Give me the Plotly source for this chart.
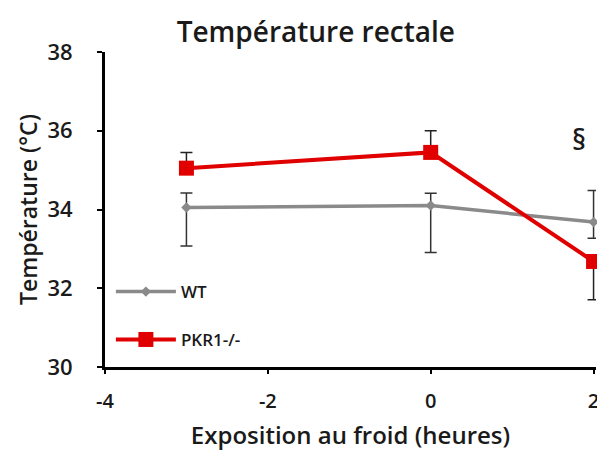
import plotly.graph_objects as go

# Data
hours = [-3, 0, 2]
wt_values = [34.05, 34.1, 33.68]
wt_err_plus = [0.37, 0.31, 0.8]
wt_err_minus = [0.98, 1.19, 0.41]
pkr_values = [35.05, 35.45, 32.68]
pkr_err_plus = [0.4, 0.55, 0.0]
pkr_err_minus = [0.0, 0.0, 0.97]
series_names = ["WT", "PKR1-/-"]
y_ticks = [30, 32, 34, 36, 38]
x_ticks = [-4, -2, 0, 2]

FONT = "Open Sans"
TXT = "#1a1a1a"

fig = go.Figure()
fig.add_trace(go.Scatter(
    x=hours, y=wt_values, name=series_names[0], mode="lines+markers",
    line=dict(color="#8a8a8a", width=3.5),
    marker=dict(symbol="diamond", size=8, color="#8a8a8a"),
    error_y=dict(type="data", symmetric=False, array=wt_err_plus, arrayminus=wt_err_minus,
                 color="#333333", thickness=1.5, width=6),
    legend="legend", cliponaxis=False,
))
fig.add_trace(go.Scatter(
    x=hours, y=pkr_values, name=series_names[1], mode="lines+markers",
    line=dict(color="#e00000", width=4),
    marker=dict(symbol="square", size=15, color="#e00000"),
    error_y=dict(type="data", symmetric=False, array=pkr_err_plus, arrayminus=pkr_err_minus,
                 color="#222222", thickness=1.5, width=6),
    legend="legend2", cliponaxis=False,
))

fig.add_annotation(x=1.82, y=35.8, xref="x", yref="y", text="§", showarrow=False,
                   font=dict(family=FONT, size=28, color=TXT, weight=600))

fig.update_layout(
    width=597, height=460,
    margin=dict(l=105, r=1, t=52, b=93),
    paper_bgcolor="white", plot_bgcolor="white",
    title=dict(text="Température rectale", x=0.529, xanchor="center", y=0.93, yanchor="middle",
               font=dict(family=FONT, size=28, color=TXT, weight=600)),
    showlegend=True,
    legend=dict(x=0.012, y=0.238, xanchor="left", yanchor="middle", bgcolor="rgba(0,0,0,0)",
                itemwidth=60, font=dict(family=FONT, size=17, color=TXT, weight=600)),
    legend2=dict(x=0.012, y=0.086, xanchor="left", yanchor="middle", bgcolor="rgba(0,0,0,0)",
                 itemwidth=60, font=dict(family=FONT, size=17, color=TXT, weight=600)),
    xaxis=dict(range=[-4, 2.03], tickvals=x_ticks, ticktext=[str(v) for v in x_ticks],
               showgrid=False, zeroline=False, showline=True, linecolor="black", linewidth=3,
               ticks="outside", ticklen=4, tickwidth=2, tickcolor="black",
               ticklabelstandoff=10, automargin=False, ticklabeloverflow="allow",
               tickfont=dict(family=FONT, size=20, color=TXT, weight=600),
               title=dict(text="Exposition au froid (heures)",
                          font=dict(family=FONT, size=24, color=TXT, weight=600))),
    yaxis=dict(range=[30, 38], tickvals=y_ticks,
               showgrid=False, zeroline=False, showline=True, linecolor="black", linewidth=3,
               ticks="outside", ticklen=5, tickwidth=2, tickcolor="black",
               ticklabelstandoff=20, automargin=True,
               tickfont=dict(family=FONT, size=22, color=TXT, weight=600),
               title=dict(text="Température (°C)", standoff=4,
                          font=dict(family=FONT, size=23, color=TXT, weight=600))),
)

fig.write_html(
    "out.html",
    config={"displayModeBar": False},
    post_script="document.body.style.margin='0';document.body.style.overflow='hidden';",
)
